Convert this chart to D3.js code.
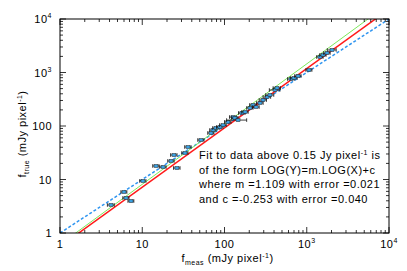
<!DOCTYPE html>
<html>
<head>
<meta charset="utf-8">
<script src="https://cdn.jsdelivr.net/npm/d3@7"></script>
<style>
  body { margin: 0; background: #fff; }
  text { font-family: "Liberation Sans", Arial, sans-serif; fill: #000; }
</style>
</head>
<body>
<div id="chart"></div>
<script>
const fMeas = [4.17, 6.0, 6.35, 7.3, 10.2, 14.7, 17.9, 22.4, 24.3, 26.4, 33.1, 36.0, 51.8,
  68.5, 72.5, 78.8, 88, 96, 110, 127, 134, 146, 163, 178, 204, 222, 242, 270, 294, 329,
  357, 411, 435, 644, 700, 783, 1065, 1449, 1577, 1764, 2028];
const fTrue = [3.34, 5.84, 4.51, 3.96, 9.4, 17.9, 17.1, 22.2, 28.7, 16.4, 31.3, 40.5, 54.7,
  74, 84, 91.8, 95.8, 104, 119, 147, 141, 129, 175, 183, 217, 247, 226, 269, 306, 348,
  380, 471, 513, 756, 789, 861, 1114, 1950, 2124, 2314, 2636];
const xErr = [0.4, 0.5, 0.55, 0.6, 0.9, 1.3, 1.6, 2.0, 2.2, 2.4, 2.9, 3.2, 4.5,
  6, 6.5, 7, 8, 9, 10, 12, 12, 40, 15, 16, 18, 20, 22, 25, 30, 35,
  40, 60, 45, 60, 65, 70, 90, 130, 140, 160, 250];
const yErr = [0.15, 0.25, 0.2, 0.2, 0.4, 0.7, 0.7, 0.9, 1.1, 0.7, 1.2, 1.6, 2.2,
  3, 3.3, 3.6, 3.8, 4, 4.7, 5.8, 5.6, 5, 7, 7.2, 8.5, 9.7, 9, 10.5, 12, 13.7,
  15, 18.5, 20, 30, 31, 34, 44, 77, 84, 91, 104];

// fit lines: log(y) = m log(x) + c
const fitRed = { m: 1.109, c: -0.253 };
const fitGreen = { m: 1.1255, c: -0.215 };

const annotation = [
  "Fit to data above 0.15 Jy pixel|-1| is",
  "of the form LOG(Y)=m.LOG(X)+c",
  "where m =1.109 with error =0.021",
  "and c =-0.253 with error =0.040"
];

const W = 407, H = 271;
const margin = { top: 19, right: 18, bottom: 38, left: 60 };
const width = W - margin.left - margin.right;
const height = H - margin.top - margin.bottom;

const svg = d3.select("#chart").append("svg")
  .attr("width", W).attr("height", H);
const g = svg.append("g")
  .attr("transform", `translate(${margin.left},${margin.top})`);

const x = d3.scaleLog().domain([1, 1e4]).range([0, width]);
const y = d3.scaleLog().domain([1, 1e4]).range([height, 0]);

g.append("defs").append("clipPath").attr("id", "clip")
  .append("rect").attr("width", width).attr("height", height);

const plot = g.append("g").attr("clip-path", "url(#clip)");

// one-to-one line
plot.append("line")
  .attr("x1", x(1)).attr("y1", y(1))
  .attr("x2", x(1e4)).attr("y2", y(1e4))
  .attr("stroke", "#2f95f0").attr("stroke-width", 1.5)
  .attr("stroke-dasharray", "3,2");

function fitLine(f, color, w) {
  const xs = [1, 1e4];
  plot.append("line")
    .attr("x1", x(xs[0])).attr("y1", y(Math.pow(10, f.m * Math.log10(xs[0]) + f.c)))
    .attr("x2", x(xs[1])).attr("y2", y(Math.pow(10, f.m * Math.log10(xs[1]) + f.c)))
    .attr("stroke", color).attr("stroke-width", w);
}
fitLine(fitGreen, "#7de85a", 1);
fitLine(fitRed, "#ff1a1a", 1.5);

// data points with error bars
const pts = fMeas.map((v, i) => ({ x: v, y: fTrue[i], ex: xErr[i], ey: yErr[i] }));
const pg = plot.selectAll("g.pt").data(pts).enter().append("g").attr("class", "pt");
pg.append("line")
  .attr("x1", d => x(d.x - d.ex)).attr("x2", d => x(d.x + d.ex))
  .attr("y1", d => y(d.y)).attr("y2", d => y(d.y))
  .attr("stroke", "#111").attr("stroke-width", 0.8);
pg.append("line")
  .attr("x1", d => x(d.x - d.ex)).attr("x2", d => x(d.x - d.ex))
  .attr("y1", d => y(d.y) - 1.8).attr("y2", d => y(d.y) + 1.8)
  .attr("stroke", "#111").attr("stroke-width", 0.8);
pg.append("line")
  .attr("x1", d => x(d.x + d.ex)).attr("x2", d => x(d.x + d.ex))
  .attr("y1", d => y(d.y) - 1.8).attr("y2", d => y(d.y) + 1.8)
  .attr("stroke", "#111").attr("stroke-width", 0.8);
pg.append("line")
  .attr("x1", d => x(d.x)).attr("x2", d => x(d.x))
  .attr("y1", d => y(d.y + d.ey)).attr("y2", d => y(d.y - d.ey))
  .attr("stroke", "#111").attr("stroke-width", 0.8);
pg.append("rect")
  .attr("x", d => x(d.x) - 2).attr("y", d => y(d.y) - 1.5)
  .attr("width", 4).attr("height", 3)
  .attr("fill", "#3aa0e0").attr("stroke", "#222").attr("stroke-width", 0.5);

// axes box
g.append("rect").attr("width", width).attr("height", height)
  .attr("fill", "none").attr("stroke", "#000").attr("stroke-width", 1);

// ticks (inward, on all four sides)
const majors = [1, 10, 100, 1000, 10000];
const minors = [];
[1, 10, 100, 1000].forEach(d => { for (let k = 2; k <= 9; k++) minors.push(d * k); });
const ticks = majors.map(v => ({ v, len: 6 })).concat(minors.map(v => ({ v, len: 3 })));

const tk = g.append("g").attr("stroke", "#000").attr("stroke-width", 0.8);
ticks.forEach(t => {
  const px = x(t.v), py = y(t.v);
  tk.append("line").attr("x1", px).attr("x2", px).attr("y1", height).attr("y2", height - t.len);
  tk.append("line").attr("x1", px).attr("x2", px).attr("y1", 0).attr("y2", t.len);
  tk.append("line").attr("y1", py).attr("y2", py).attr("x1", 0).attr("x2", t.len);
  tk.append("line").attr("y1", py).attr("y2", py).attr("x1", width).attr("x2", width - t.len);
});

// tick labels
function tickLabel(sel, v) {
  if (v === 1) sel.text("1");
  else if (v === 10) sel.text("10");
  else if (v === 100) sel.text("100");
  else {
    sel.append("tspan").text("10");
    sel.append("tspan").attr("font-size", 7).attr("dy", -5).text(Math.round(Math.log10(v)));
  }
}
majors.forEach(v => {
  const t = g.append("text").attr("x", x(v)).attr("y", height + 15)
    .attr("text-anchor", "middle").attr("font-size", 11).attr("letter-spacing", 0.5);
  tickLabel(t, v);
  const u = g.append("text").attr("x", -8).attr("y", y(v) + 4)
    .attr("text-anchor", "end").attr("font-size", 11).attr("letter-spacing", 0.5);
  tickLabel(u, v);
});

// axis titles
function axisTitle(sel, sub) {
  sel.append("tspan").text("f");
  sel.append("tspan").attr("font-size", 7).attr("dy", 2.5).text(sub);
  sel.append("tspan").attr("dy", -2.5).text("  (mJy pixel");
  sel.append("tspan").attr("font-size", 7).attr("dy", -4.5).text("-1");
  sel.append("tspan").attr("dy", 4.5).text(")");
}
const xt = g.append("text").attr("x", width / 2 + 3).attr("y", height + 29)
  .attr("text-anchor", "middle").attr("font-size", 11).attr("letter-spacing", 0.5);
axisTitle(xt, "meas");
const yt = g.append("text")
  .attr("transform", `translate(${-34},${height / 2 + 8}) rotate(-90)`)
  .attr("text-anchor", "middle").attr("font-size", 11).attr("letter-spacing", 0.5);
axisTitle(yt, "true");

// annotation
annotation.forEach((line, i) => {
  const t = svg.append("text").attr("x", 199).attr("y", 159 + i * 14.5)
    .attr("font-size", 11).attr("letter-spacing", 0.5);
  const parts = line.split("|");
  parts.forEach((p, j) => {
    if (j % 2 === 1) t.append("tspan").attr("font-size", 7).attr("dy", -4.5).text(p);
    else t.append("tspan").attr("dy", j > 0 ? 4.5 : 0).text(p);
  });
});
</script>
</body>
</html>
